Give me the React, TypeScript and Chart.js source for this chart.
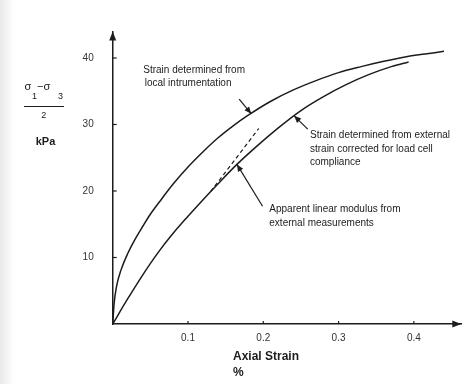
import React, { useEffect, useRef } from "react";
import { Chart, registerables } from "chart.js";

Chart.register(...registerables);

// ---- data ----
const localStrain = [0, 0.002, 0.005, 0.011, 0.02, 0.03, 0.04, 0.05, 0.065, 0.08, 0.1, 0.12, 0.14, 0.16, 0.18, 0.21, 0.24, 0.27, 0.3, 0.33, 0.36, 0.39, 0.415, 0.44];
const localStress = [0, 3.2, 5.6, 8.1, 10.6, 12.8, 14.7, 16.5, 18.8, 21.0, 23.6, 25.9, 28.0, 29.8, 31.4, 33.5, 35.2, 36.6, 37.8, 38.7, 39.5, 40.2, 40.6, 41.0];

const externalStrain = [0, 0.02, 0.04, 0.06, 0.08, 0.1, 0.12, 0.14, 0.165, 0.19, 0.22, 0.25, 0.28, 0.31, 0.34, 0.37, 0.393];
const externalStress = [0, 3.8, 7.4, 10.7, 13.6, 16.2, 18.7, 21.1, 24.0, 26.6, 29.5, 32.1, 34.2, 36.0, 37.5, 38.7, 39.4];

const linearStrain = [0.13, 0.194];
const linearStress = [19.9, 29.4];

const xTicks = [0.1, 0.2, 0.3, 0.4];
const xTickLabels = ["0.1", "0.2", "0.3", "0.4"];
const yTicks = [10, 20, 30, 40];
const yTickLabels = ["10", "20", "30", "40"];

const xTitle = ["Axial Strain", "%"];
const yUnit = "kPa";

const noteLocal = ["Strain determined from", "local intrumentation"];
const noteExternal = ["Strain determined from external", "strain corrected for load cell", "compliance"];
const noteLinear = ["Apparent linear modulus from", "external measurements"];

// annotation placement (data units)
const ANNOTATIONS = [
  { lines: noteLocal, at: [0.0406, 38.2], tail: [0.168, 33.8], tip: [0.184, 31.6] },
  { lines: noteExternal, at: [0.262, 28.4], tail: [0.259, 29.3], tip: [0.241, 31.3] },
  { lines: noteLinear, at: [0.208, 17.2], tail: [0.199, 17.7], tip: [0.165, 24.0] },
];

const FONT = '"Liberation Sans", Arial, sans-serif';
const INK = "#1c1c1c";

function toPts(xs: number[], ys: number[]) {
  return xs.map((x, i) => ({ x, y: ys[i] }));
}

function arrowHead(ctx: CanvasRenderingContext2D, x1: number, y1: number, x2: number, y2: number, len: number, half: number) {
  const a = Math.atan2(y2 - y1, x2 - x1);
  ctx.beginPath();
  ctx.moveTo(x2, y2);
  ctx.lineTo(x2 - len * Math.cos(a) + half * Math.sin(a), y2 - len * Math.sin(a) - half * Math.cos(a));
  ctx.lineTo(x2 - len * Math.cos(a) - half * Math.sin(a), y2 - len * Math.sin(a) + half * Math.cos(a));
  ctx.closePath();
  ctx.fill();
}

const overlay = {
  id: "overlay",
  beforeDraw(chart: any) {
    const ctx = chart.ctx as CanvasRenderingContext2D;
    ctx.save();
    ctx.fillStyle = "#ffffff";
    ctx.fillRect(0, 0, chart.width, chart.height);
    const g = ctx.createLinearGradient(0, 0, 14, 0);
    g.addColorStop(0, "#e9e9e9");
    g.addColorStop(1, "#ffffff");
    ctx.fillStyle = g;
    ctx.fillRect(0, 0, 14, chart.height - 8);
    ctx.restore();
  },
  afterDraw(chart: any) {
    const ctx = chart.ctx as CanvasRenderingContext2D;
    const xs = chart.scales.x;
    const ys = chart.scales.y;
    const area = chart.chartArea;
    const ox = xs.getPixelForValue(0);
    const oy = ys.getPixelForValue(0);
    ctx.save();
    ctx.strokeStyle = INK;
    ctx.fillStyle = INK;
    ctx.lineWidth = 1.2;
    // inward ticks
    yTicks.forEach((v) => {
      const p = ys.getPixelForValue(v);
      ctx.beginPath();
      ctx.moveTo(ox, p);
      ctx.lineTo(ox + 4, p);
      ctx.stroke();
    });
    xTicks.forEach((v) => {
      const p = xs.getPixelForValue(v);
      ctx.beginPath();
      ctx.moveTo(p, oy);
      ctx.lineTo(p, oy - 3);
      ctx.stroke();
    });
    // axis arrow heads
    arrowHead(ctx, ox, oy, ox, area.top, 9, 3.5);
    arrowHead(ctx, ox, oy, area.right, oy, 9, 3.5);

    // y axis title: (σ1 − σ3) / 2 , kPa
    ctx.textBaseline = "alphabetic";
    ctx.textAlign = "left";
    ctx.font = `11px ${FONT}`;
    ctx.fillText("σ", 24.5, 90);
    ctx.fillText("−σ", 37, 90);
    ctx.font = `9px ${FONT}`;
    ctx.fillText("1", 32, 99);
    ctx.fillText("3", 58, 99);
    ctx.lineWidth = 1;
    ctx.beginPath();
    ctx.moveTo(24, 106.5);
    ctx.lineTo(64, 106.5);
    ctx.stroke();
    ctx.font = `9px ${FONT}`;
    ctx.textAlign = "center";
    ctx.fillText("2", 43.7, 118);
    ctx.font = `bold 11px ${FONT}`;
    ctx.textBaseline = "middle";
    ctx.fillText(yUnit, 45.5, 142);

    // x axis title
    ctx.textAlign = "left";
    ctx.font = `bold 12px ${FONT}`;
    ctx.fillText(xTitle[0], 233, 357);
    ctx.fillText(xTitle[1], 233, 373);

    // annotations
    ctx.font = `10px ${FONT}`;
    ctx.textBaseline = "middle";
    ANNOTATIONS.forEach((a) => {
      const tx = xs.getPixelForValue(a.at[0]);
      const ty = ys.getPixelForValue(a.at[1]);
      a.lines.forEach((line, i) => {
        ctx.fillText(line, tx + (a.lines === noteLocal && i === 1 ? 1.5 : 0), ty + i * 13.7);
      });
      const x1 = xs.getPixelForValue(a.tail[0]);
      const y1 = ys.getPixelForValue(a.tail[1]);
      const x2 = xs.getPixelForValue(a.tip[0]);
      const y2 = ys.getPixelForValue(a.tip[1]);
      ctx.lineWidth = 1.2;
      ctx.beginPath();
      ctx.moveTo(x1, y1);
      ctx.lineTo(x2, y2);
      ctx.stroke();
      arrowHead(ctx, x1, y1, x2, y2, 7, 3);
    });
    ctx.restore();
  },
};

export default function App() {
  const ref = useRef<HTMLCanvasElement | null>(null);
  useEffect(() => {
    document.body.style.margin = "0";
    const canvas = ref.current;
    if (!canvas) return;
    const lineStyle = {
      showLine: true,
      pointRadius: 0,
      borderColor: INK,
      borderWidth: 1.5,
      cubicInterpolationMode: "monotone" as const,
      fill: false,
    };
    const chart = new Chart(canvas, {
      type: "scatter",
      data: {
        datasets: [
          { label: "local", data: toPts(localStrain, localStress), ...lineStyle },
          { label: "external", data: toPts(externalStrain, externalStress), ...lineStyle },
          {
            label: "linear",
            data: toPts(linearStrain, linearStress),
            ...lineStyle,
            borderWidth: 1.2,
            borderDash: [4, 3],
          },
        ],
      },
      options: {
        animation: false,
        responsive: false,
        devicePixelRatio: 1,
        layout: { padding: { left: 0, right: 1.7, top: 31.4, bottom: 0 } },
        plugins: { legend: { display: false }, tooltip: { enabled: false }, title: { display: false } },
        scales: {
          x: {
            type: "linear",
            min: 0,
            max: 0.463,
            afterFit: (s: any) => {
              s.height = 68;
            },
            afterBuildTicks: (s: any) => {
              s.ticks = xTicks.map((value) => ({ value }));
            },
            ticks: {
              autoSkip: false,
              maxRotation: 0,
              padding: 8,
              color: "#333",
              font: { family: FONT, size: 10 },
              callback: (_v: any, i: number) => xTickLabels[i],
            },
            grid: { display: true, drawOnChartArea: false, drawTicks: false },
            border: { display: true, color: INK, width: 1.5 },
          },
          y: {
            type: "linear",
            min: 0,
            max: 44,
            afterFit: (s: any) => {
              s.width = 112.7;
            },
            afterBuildTicks: (s: any) => {
              s.ticks = yTicks.map((value) => ({ value }));
            },
            ticks: {
              autoSkip: false,
              padding: 19,
              color: "#333",
              font: { family: FONT, size: 10 },
              callback: (_v: any, i: number) => yTickLabels[i],
            },
            grid: { display: true, drawOnChartArea: false, drawTicks: false },
            border: { display: true, color: INK, width: 1.5 },
          },
        },
      },
      plugins: [overlay],
    });
    return () => chart.destroy();
  }, []);
  return (
    <div style={{ width: 463, height: 392, background: "#fff" }}>
      <canvas ref={ref} width={463} height={392} style={{ display: "block" }} />
    </div>
  );
}
